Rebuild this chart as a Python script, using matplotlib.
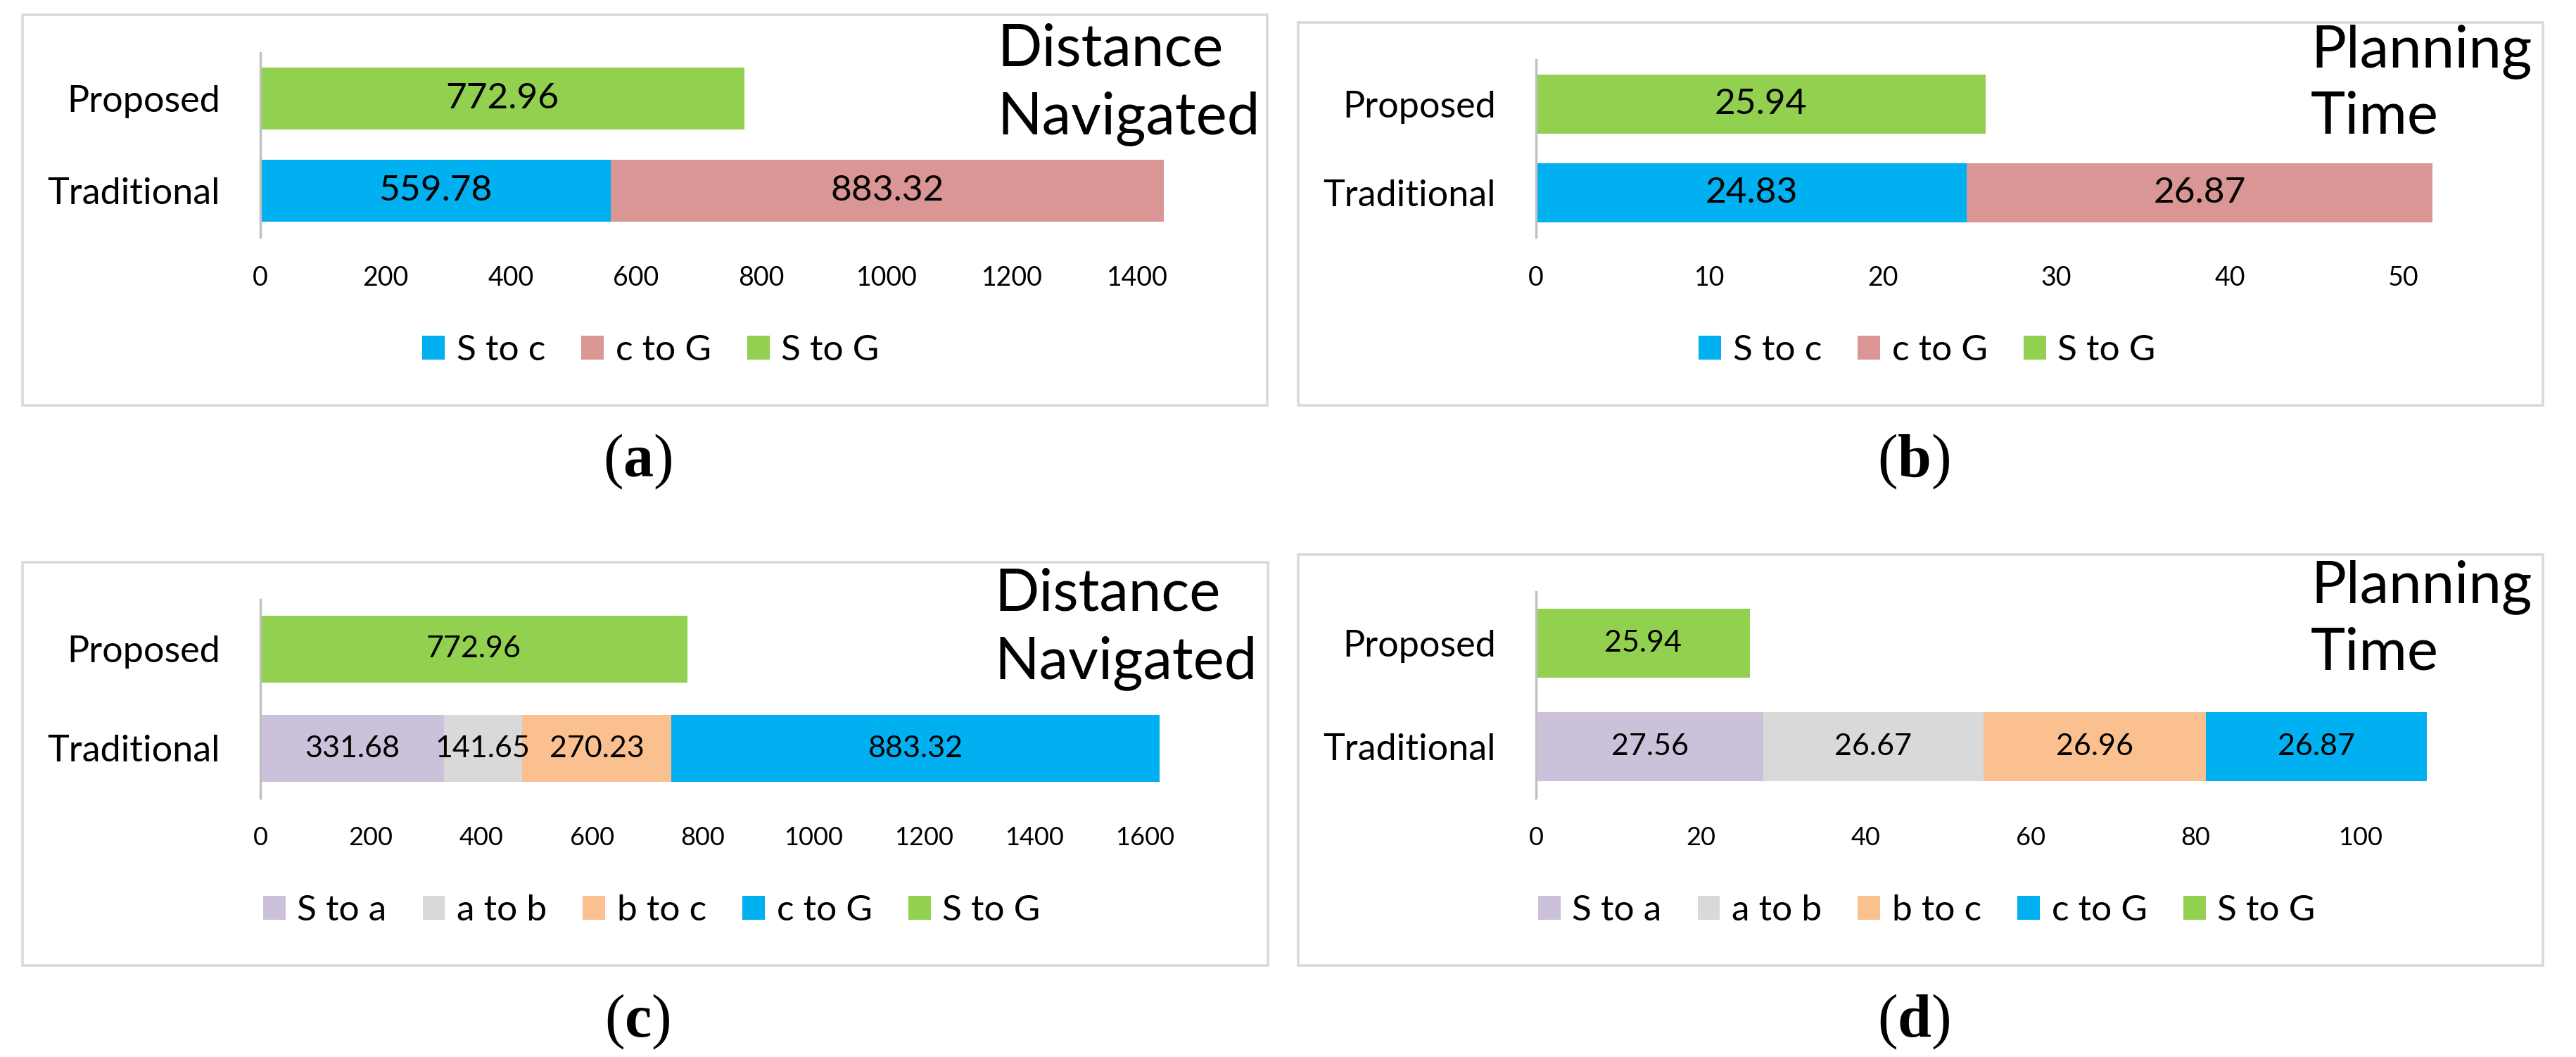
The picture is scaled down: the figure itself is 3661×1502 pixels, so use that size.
import matplotlib
matplotlib.use('Agg')
import matplotlib.pyplot as plt
from matplotlib.patches import Rectangle
from matplotlib.ticker import MultipleLocator

W, H = 3662, 1502

# data
categories = ['Traditional', 'Proposed']

segments_ab = ['S to c', 'c to G', 'S to G']
distance_a_traditional = [559.78, 883.32, 0.0]
distance_a_proposed = [0.0, 0.0, 772.96]
time_b_traditional = [24.83, 26.87, 0.0]
time_b_proposed = [0.0, 0.0, 25.94]

segments_cd = ['S to a', 'a to b', 'b to c', 'c to G', 'S to G']
distance_c_traditional = [331.68, 141.65, 270.23, 883.32, 0.0]
distance_c_proposed = [0.0, 0.0, 0.0, 0.0, 772.96]
time_d_traditional = [27.56, 26.67, 26.96, 26.87, 0.0]
time_d_proposed = [0.0, 0.0, 0.0, 0.0, 25.94]

colors_ab = ['#00B0F0', '#D99694', '#92D050']
colors_cd = ['#CCC1DA', '#D9D9D9', '#FAC090', '#00B0F0', '#92D050']

plt.rcParams['font.family'] = ['Lato', 'DejaVu Sans']
plt.rcParams['mathtext.fontset'] = 'custom'
plt.rcParams['mathtext.rm'] = 'Liberation Serif'
plt.rcParams['mathtext.bf'] = 'Liberation Serif:bold'

fig = plt.figure(figsize=(W / 100, H / 100), dpi=100)


def fx(x):
    return x / W


def fy(y):
    return 1 - y / H


def panel(box, ax_left, ax_top, ax_bottom, ppu, names, colors, trad, prop, step,
          title, title_x, title_bases, legend_c, caption, cap_x, cap_base,
          label_size, tick_size):
    # light grey frame around each chart
    x0, y0, x1, y1 = box
    fig.patches.append(Rectangle((fx(x0), fy(y1)), fx(x1) - fx(x0), fy(y0) - fy(y1),
                                 transform=fig.transFigure, fill=False,
                                 edgecolor='#D9D9D9', linewidth=2.6))
    total = sum(trad)
    ax_right = ax_left + total * ppu
    ax = fig.add_axes([fx(ax_left), fy(ax_bottom), fx(ax_right) - fx(ax_left),
                       fy(ax_top) - fy(ax_bottom)])
    left = [0.0, 0.0]
    for name, c, t, p in zip(names, colors, trad, prop):
        vals = [t, p]
        bars = ax.barh([0, 1], vals, left=left, height=0.67, color=c, label=name)
        ax.bar_label(bars, labels=[f'{v:.2f}' if v > 0 else '' for v in vals],
                     label_type='center', fontsize=label_size)
        left = [l + v for l, v in zip(left, vals)]
    ax.set_xlim(0, total)
    ax.set_ylim(-0.5, 1.5)
    ax.set_yticks([0, 1], categories)
    ax.xaxis.set_major_locator(MultipleLocator(step))
    for s in ['top', 'right', 'bottom']:
        ax.spines[s].set_visible(False)
    ax.spines['left'].set_color('#BFBFBF')
    ax.spines['left'].set_linewidth(2.4)
    ax.tick_params(axis='both', length=0)
    ax.tick_params(axis='y', labelsize=37.5, pad=41)
    ax.tick_params(axis='x', labelsize=tick_size, pad=29)

    handles, labels = ax.get_legend_handles_labels()
    fig.legend(handles, labels, loc='center', bbox_to_anchor=(fx(legend_c[0]), fy(legend_c[1])),
               ncol=len(labels), frameon=False, fontsize=37, handlelength=0.62,
               handleheight=0.62, handletextpad=0.32, columnspacing=1.0, borderaxespad=0)

    for line, base in zip(title, title_bases):
        fig.text(fx(title_x), fy(base), line, fontsize=60, ha='left', va='baseline')

    fig.text(fx(cap_x), fy(cap_base), r'$\mathrm{(}\mathbf{' + caption + r'}\mathrm{)}$',
             fontsize=62, ha='center', va='baseline')


panel((32, 21, 1801, 576), 370, 74.5, 337, 0.89, segments_ab, colors_ab,
      distance_a_traditional, distance_a_proposed, 200,
      ['Distance', 'Navigated'], 1417, [94, 190], (925, 498), 'a', 906, 677, 37, 27)
panel((1845, 32, 3614, 576), 2183, 85, 337, 24.65, segments_ab, colors_ab,
      time_b_traditional, time_b_proposed, 10,
      ['Planning', 'Time'], 3284, [95, 190], (2739, 498), 'b', 2720, 677, 37, 27)
panel((32, 799, 1802, 1372), 370, 852, 1134, 0.7856, segments_cd, colors_cd,
      distance_c_traditional, distance_c_proposed, 200,
      ['Distance', 'Navigated'], 1413, [867, 964.5], (926, 1294), 'c', 906, 1473, 31, 26)
panel((1845, 788, 3614, 1372), 2183, 841, 1134, 11.72, segments_cd, colors_cd,
      time_d_traditional, time_d_proposed, 20,
      ['Planning', 'Time'], 3284, [856, 952], (2738, 1294), 'd', 2720, 1473, 31, 26)

fig.savefig('out.png', dpi=100)
